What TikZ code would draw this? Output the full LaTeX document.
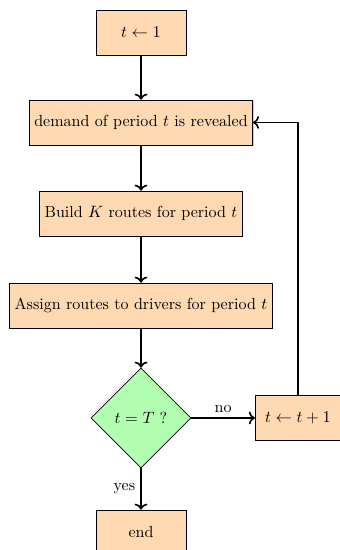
\documentclass[tikz,border=0pt]{standalone}
\usetikzlibrary{shapes.geometric,shadows,arrows.meta}
\begin{document}
\begin{tikzpicture}[x=0.6667pt,y=-0.6667pt,
  every node/.style={font=\fontsize{10.7}{13}\selectfont},
  box/.style={draw,fill=orange!30,minimum height=30pt,inner xsep=3.3pt,
    drop shadow={shadow xshift=0.6pt,shadow yshift=-0.6pt,opacity=0.4}},
  dec/.style={draw,diamond,fill=green!30,minimum width=66.7pt,minimum height=66.7pt,inner sep=0pt,aspect=1},
  arr/.style={->,line width=1.1pt}]
\useasboundingbox (0,0) rectangle (340,550);
\node[box,minimum width=60pt] (init) at (141,32.5) {$t \leftarrow 1$};
\node[box] (dem) at (141,122.5) {demand of period $t$ is revealed};
\node[box] (build) at (141,213.5) {Build $K$ routes for period $t$};
\node[box] (assign) at (141,305.5) {Assign routes to drivers for period $t$};
\node[dec] (test) at (141,418) {$t = T$ ?};
\node[box,minimum width=57pt] (inc) at (298,418) {$t \leftarrow t+1$};
\node[box,minimum width=60pt] (end) at (141,532.5) {end};
\draw[arr] (init) -- (dem);
\draw[arr] (dem) -- (build);
\draw[arr] (build) -- (assign);
\draw[arr] (assign) -- (test);
\draw[arr] (test) -- node[above] {no} (inc);
\draw[arr] (inc.north) |- (dem.east);
\draw[arr] (test) -- node[left] {yes} (end);
\end{tikzpicture}
\end{document}
